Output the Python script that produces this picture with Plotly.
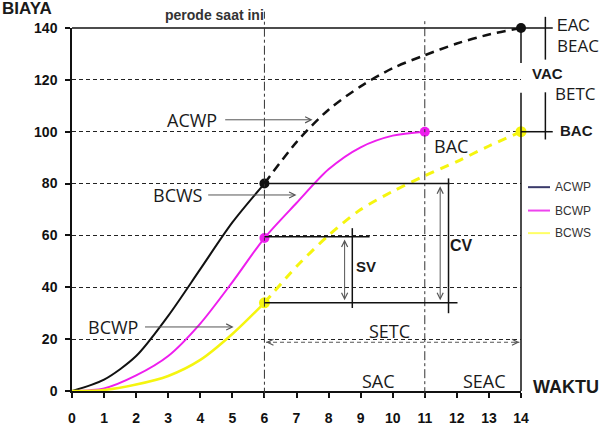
import plotly.graph_objects as go

# ---------------- data ----------------
x_actual = [0, 1, 2, 3, 4, 5, 6]
x_future = [6, 7, 8, 9, 10, 11, 12, 13, 14]
x_bcwp = [0, 1, 2, 3, 4, 5, 6, 7, 8, 9, 10, 11]

acwp_actual = [0, 4.4, 13.5, 29, 47, 65, 80]
acwp_forecast = [80, 96, 108.5, 117.5, 124.5, 129.5, 134, 137.5, 140]
bcwp_values = [0, 1, 6, 13.5, 26, 42, 59, 72.5, 85.5, 94, 98.5, 100]
bcws_actual = [0, 0.4, 2.5, 5.8, 12, 22, 34]
bcws_plan = [34, 48, 60, 70, 77, 83, 88.5, 94.5, 100]

x_tick_vals = list(range(0, 15))
y_tick_vals = [0, 20, 40, 60, 80, 100, 120, 140]

legend_names = ["ACWP", "BCWP", "BCWS"]
legend_colors = ["#3a3a6a", "#ee44ee", "#ffff66"]

# ---------------- styles ----------------
BLACK = "#111111"
MAGENTA = "#ee1eee"
YELLOW = "#f5f50f"
GRAY = "#555555"
ARIAL = "Liberation Sans"
CALIBRI = "Open Sans"

X_MAX = 14.0
Y_MAX = 140.0


def px(x):
    return x / X_MAX


def py(v):
    return v / Y_MAX


fig = go.Figure()

fig.add_trace(go.Scatter(x=x_actual, y=acwp_actual, mode="lines",
                         line=dict(color=BLACK, width=2, shape="spline", smoothing=0.8),
                         name="ACWP", showlegend=False))
fig.add_trace(go.Scatter(x=x_future, y=acwp_forecast, mode="lines",
                         line=dict(color=BLACK, width=2.5, dash="9px,6px", shape="spline", smoothing=0.8),
                         name="ACWP forecast", showlegend=False))
fig.add_trace(go.Scatter(x=x_bcwp, y=bcwp_values, mode="lines",
                         line=dict(color=MAGENTA, width=2, shape="spline", smoothing=0.8),
                         name="BCWP", showlegend=False))
fig.add_trace(go.Scatter(x=x_actual, y=bcws_actual, mode="lines",
                         line=dict(color=YELLOW, width=2.5, shape="spline", smoothing=0.8),
                         name="BCWS", showlegend=False))
fig.add_trace(go.Scatter(x=x_future, y=bcws_plan, mode="lines",
                         line=dict(color=YELLOW, width=3, dash="9px,7px", shape="spline", smoothing=0.8),
                         name="BCWS plan", showlegend=False))

# key points
fig.add_trace(go.Scatter(x=[x_actual[-1], x_future[-1]], y=[acwp_actual[-1], acwp_forecast[-1]],
                         mode="markers", marker=dict(color=BLACK, size=10), cliponaxis=False,
                         showlegend=False))
fig.add_trace(go.Scatter(x=[x_actual[-1], x_bcwp[-1]], y=[bcwp_values[6], bcwp_values[-1]],
                         mode="markers", marker=dict(color=MAGENTA, size=10), cliponaxis=False,
                         showlegend=False))
fig.add_trace(go.Scatter(x=[x_actual[-1], x_future[-1]], y=[bcws_actual[-1], bcws_plan[-1]],
                         mode="markers", marker=dict(color=YELLOW, size=11), cliponaxis=False,
                         showlegend=False))

shapes = []
# top line at 140 extending to the EAC label
shapes.append(dict(type="line", xref="paper", yref="paper", x0=0, x1=px(14.99), y0=1, y1=1,
                   line=dict(color=BLACK, width=1.5)))
# vertical line at x=14 with gap for VAC
shapes.append(dict(type="line", xref="paper", yref="paper", x0=1, x1=1, y0=py(126.5), y1=1,
                   line=dict(color=BLACK, width=1.5)))
shapes.append(dict(type="line", xref="paper", yref="paper", x0=1, x1=1, y0=0, y1=py(115),
                   line=dict(color=BLACK, width=1.5)))
# brackets right
shapes.append(dict(type="line", xref="paper", yref="paper", x0=px(14.76), x1=px(14.76),
                   y0=py(127.8), y1=py(144.3), line=dict(color=BLACK, width=1.5)))
shapes.append(dict(type="line", xref="paper", yref="paper", x0=px(14.76), x1=px(14.76),
                   y0=py(97), y1=py(115.2), line=dict(color=BLACK, width=1.5)))
shapes.append(dict(type="line", xref="paper", yref="paper", x0=1, x1=px(14.99),
                   y0=py(100), y1=py(100), line=dict(color=BLACK, width=1.5)))
# current period and x=11 dash-dot lines
shapes.append(dict(type="line", xref="paper", yref="paper", x0=px(6), x1=px(6),
                   y0=py(-2.2), y1=py(146.3), line=dict(color="#333333", width=1, dash="dashdot")))
shapes.append(dict(type="line", xref="paper", yref="paper", x0=px(11), x1=px(11),
                   y0=py(-2), y1=py(143), line=dict(color="#333333", width=1, dash="dashdot")))
# horizontal solid guides
shapes.append(dict(type="line", xref="x", yref="y", x0=6, x1=11.78, y0=80, y1=80,
                   line=dict(color=BLACK, width=1.5)))
shapes.append(dict(type="line", xref="x", yref="y", x0=6, x1=9.28, y0=59.5, y1=59.5,
                   line=dict(color=BLACK, width=1.5)))
shapes.append(dict(type="line", xref="x", yref="y", x0=6, x1=12.02, y0=34, y1=34,
                   line=dict(color=BLACK, width=1.5)))
# SV / CV verticals
shapes.append(dict(type="line", xref="x", yref="y", x0=8.74, x1=8.74, y0=32, y1=62.8,
                   line=dict(color=BLACK, width=1.5)))
shapes.append(dict(type="line", xref="x", yref="y", x0=11.74, x1=11.74, y0=30, y1=82,
                   line=dict(color=BLACK, width=1.5)))
# SETC dashed line
shapes.append(dict(type="line", xref="x", yref="y", x0=6.05, x1=13.95, y0=18.8, y1=18.8,
                   line=dict(color=GRAY, width=1, dash="4px,3px")))
# legend lines
legend_y = [0.5615, 0.4971, 0.4349]
for c, yy in zip(legend_colors, legend_y):
    shapes.append(dict(type="line", xref="paper", yref="paper", x0=1.0156, x1=1.0646,
                       y0=yy, y1=yy, line=dict(color=c, width=2)))

ann = []


def arrow(x, y, ax, ay, both=False):
    d = dict(x=x, y=y, ax=ax, ay=ay, xref="x", yref="y", axref="x", ayref="y",
             showarrow=True, arrowhead=5, arrowsize=1.2, arrowwidth=1, arrowcolor=GRAY,
             standoff=0, text="")
    if both:
        d.update(arrowside="end+start", startarrowhead=5, startarrowsize=1.2, startstandoff=0)
    return d


ann.append(arrow(7.5, 104.6, 4.73, 104.6))
ann.append(arrow(7.0, 75.6, 4.2, 75.6))
ann.append(arrow(5.04, 24.7, 2.23, 24.7))
ann.append(arrow(8.5, 35, 8.5, 59, both=True))
ann.append(arrow(11.48, 35, 11.48, 79.5, both=True))
ann.append(arrow(6.05, 18.8, 6.25, 18.8))
ann.append(arrow(13.95, 18.8, 13.75, 18.8))


def label(text, x, y, size=18, family=CALIBRI, bold=False, xanchor="center", ref="data", color="#1a1a1a"):
    return dict(text=text, x=x, y=y, xref="x" if ref == "data" else "paper",
                yref="y" if ref == "data" else "paper", showarrow=False,
                xanchor=xanchor, yanchor="middle",
                font=dict(family=family, size=size, color=color, weight="bold" if bold else "normal"))


ann.append(label("ACWP", 4.58, 104.6, xanchor="right"))
ann.append(label("BCWS", 4.15, 75.6, xanchor="right"))
ann.append(label("BCWP", 2.13, 24.7, xanchor="right"))
ann.append(label("BAC", 11.22, 94.6, xanchor="left"))
ann.append(label("SV", 9.17, 48, size=15, family=ARIAL, bold=True))
ann.append(label("CV", 12.14, 56, size=16, family=ARIAL, bold=True))
ann.append(label("SETC", 9.2, 23.2, xanchor="left"))
ann.append(label("SAC", 9.56, 3.7))
ann.append(label("SEAC", 12.85, 3.7))

ann.append(label("BIAYA", -0.160, 1.055, size=17, family=ARIAL, bold=True, xanchor="left", ref="paper"))
ann.append(label("perode saat ini", 0.432, 1.036, size=14, family=ARIAL, bold=True, xanchor="right",
                 ref="paper", color="#333333"))
ann.append(label("WAKTU", 1.0223, 0.0105, size=18, family=ARIAL, bold=True, xanchor="left", ref="paper"))
ann.append(label("EAC", 1.0757, 1.006, size=16, family=ARIAL, xanchor="left", ref="paper"))
ann.append(label("BEAC", 1.0757, 0.953, size=17, xanchor="left", ref="paper"))
ann.append(label("VAC", 1.058, 0.8734, size=15, family=ARIAL, bold=True, ref="paper"))
ann.append(label("BETC", 1.0706, 0.8191, size=17, xanchor="left", ref="paper"))
ann.append(label("BAC", 1.0824, 0.7165, size=15, family=ARIAL, bold=True, xanchor="left", ref="paper"))
for n, yy in zip(legend_names, legend_y):
    ann.append(label(n, 1.0713, yy, size=12, family=ARIAL, xanchor="left", ref="paper", color="#333333"))

fig.update_layout(
    width=604, height=433, autosize=False,
    margin=dict(l=72, r=83, t=28, b=42, pad=0, autoexpand=False),
    paper_bgcolor="white", plot_bgcolor="white",
    shapes=shapes, annotations=ann, showlegend=False,
    xaxis=dict(range=[0, X_MAX], tickvals=x_tick_vals, ticktext=[str(v) for v in x_tick_vals],
               ticks="outside", ticklen=5, tickwidth=1.5, tickcolor=BLACK, automargin=False,
               showline=True, linecolor=BLACK, linewidth=1.5, showgrid=False, zeroline=False,
               ticklabelstandoff=8,
               tickfont=dict(family=ARIAL, size=14, color=BLACK, weight="bold")),
    yaxis=dict(range=[0, Y_MAX], tickvals=y_tick_vals, ticktext=[str(v) for v in y_tick_vals],
               ticks="outside", ticklen=5, tickwidth=1.5, tickcolor=BLACK, automargin=False,
               showline=True, linecolor=BLACK, linewidth=1.5, showgrid=True,
               gridcolor="#222222", gridwidth=1, griddash="4px,3px", zeroline=False,
               ticklabelstandoff=5,
               tickfont=dict(family=ARIAL, size=14, color=BLACK, weight="bold")),
)

fig.write_html("out.html")
